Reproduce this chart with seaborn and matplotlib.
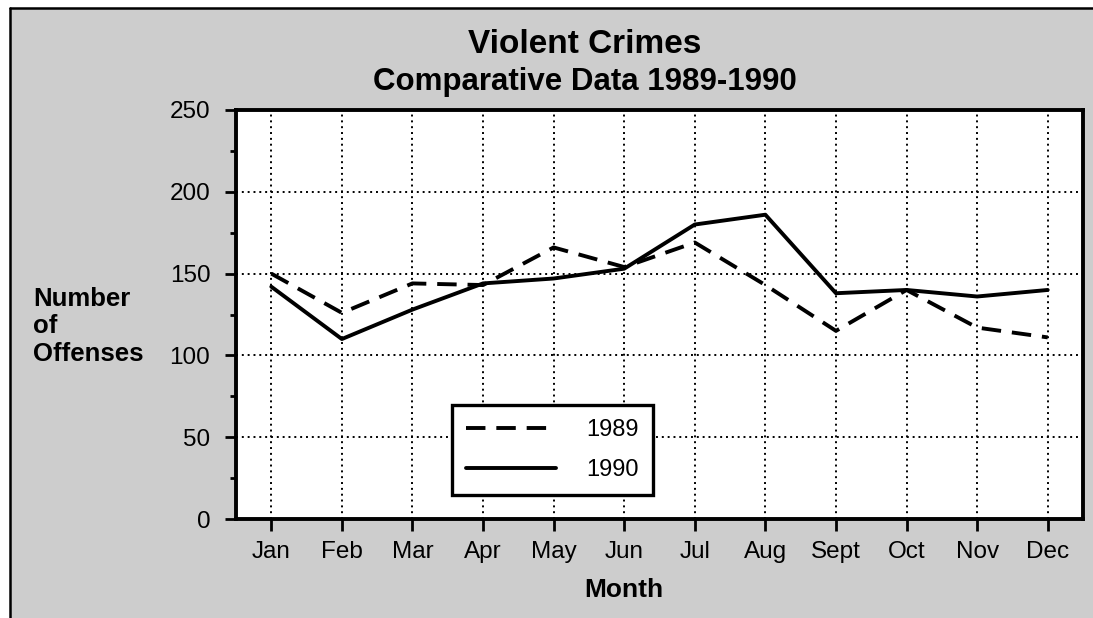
import numpy as np
import pandas as pd
import matplotlib
matplotlib.use("Agg")
import matplotlib.pyplot as plt
import seaborn as sns
from matplotlib.ticker import MultipleLocator
from matplotlib.lines import Line2D

months = ["Jan", "Feb", "Mar", "Apr", "May", "Jun",
          "Jul", "Aug", "Sept", "Oct", "Nov", "Dec"]
offenses_1989 = [150, 126, 144, 143, 166, 154, 169, 143, 115, 140, 117, 111]
offenses_1990 = [142, 110, 128, 144, 147, 153, 180, 186, 138, 140, 136, 140]

df = pd.DataFrame({
    "month": list(range(12)) * 2,
    "offenses": offenses_1989 + offenses_1990,
    "year": ["1989"] * 12 + ["1990"] * 12,
})

sns.set_style("white")
plt.rcParams["font.family"] = ["Liberation Sans", "DejaVu Sans"]
plt.rcParams["text.color"] = "black"
plt.rcParams["axes.labelcolor"] = "black"
plt.rcParams["xtick.color"] = "black"
plt.rcParams["ytick.color"] = "black"

W, H = 1093, 618
fig = plt.figure(figsize=(W / 100, H / 100), dpi=100, facecolor="white")

# stippled page background (flat grey) with a frame on top and left
fig.patches.append(plt.Rectangle((10 / W, 0), 1, 1 - 8 / H, transform=fig.transFigure,
                                 facecolor="#cdcdcd", edgecolor="none", zorder=-10))
fig.lines.append(Line2D([10 / W, 1], [1 - 8 / H, 1 - 8 / H], transform=fig.transFigure,
                        color="black", linewidth=1.8))
fig.lines.append(Line2D([10 / W, 10 / W], [0, 1 - 8 / H], transform=fig.transFigure,
                        color="black", linewidth=1.8))

ax = fig.add_axes([236 / W, 1 - 519 / H, 847 / W, 409 / H])
ax.set_facecolor("white")

sns.lineplot(
    data=df, x="month", y="offenses", style="year",
    dashes={"1989": (5, 2.8), "1990": ""},
    color="black", linewidth=2.8, ax=ax, legend=True,
)

ax.set_xlim(-0.5, 11.5)
ax.set_ylim(0, 250)
ax.set_xticks(range(12))
ax.set_xticklabels(months)
ax.yaxis.set_major_locator(MultipleLocator(50))
ax.yaxis.set_minor_locator(MultipleLocator(25))
ax.grid(True, which="major", color="black", linestyle=(0, (1, 2)), linewidth=1.4)

for s in ax.spines.values():
    s.set_visible(True)
    s.set_color("black")
    s.set_linewidth(2.8)

ax.tick_params(axis="x", which="major", direction="out", length=8.5, width=2,
               labelsize=17.5, pad=7, bottom=True)
ax.tick_params(axis="y", which="major", direction="out", length=8, width=2,
               labelsize=17.5, pad=10.5, left=True)
ax.tick_params(axis="y", which="minor", direction="out", length=4.5, width=2, left=True)

ax.set_xlabel("")
ax.set_ylabel("")

fig.text(624 / W, 1 - 590 / H, "Month", fontsize=19, fontweight="bold",
         ha="center", va="center")
fig.text(33 / W, 1 - 287 / H, "Number\nof\nOffenses", fontsize=18.5, fontweight="bold",
         ha="left", va="top", linespacing=1.18)
fig.text(585 / W, 1 - 53 / H, "Violent Crimes", fontsize=24, fontweight="bold",
         ha="center", va="baseline")
fig.text(585 / W, 1 - 90 / H, "Comparative Data 1989-1990", fontsize=22.5,
         fontweight="bold", ha="center", va="baseline")

leg = ax.legend(
    loc="upper left", bbox_to_anchor=((452 - 236) / 847, (519 - 405) / 409),
    borderaxespad=0, fontsize=17, handlelength=3.8, handletextpad=1.3,
    labelspacing=0.75, borderpad=0.6, fancybox=False, framealpha=1,
    edgecolor="black",
)
leg.get_frame().set_linewidth(2.4)

fig.savefig("out.png", dpi=100, facecolor=fig.get_facecolor())
